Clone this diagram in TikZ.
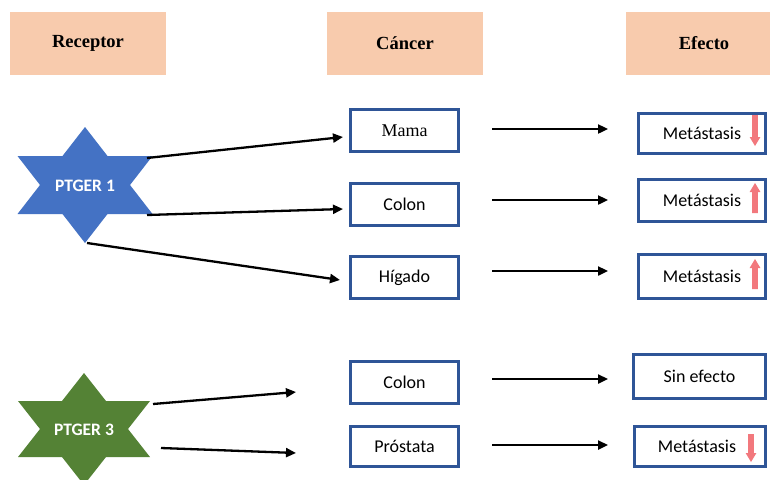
\documentclass[tikz,border=0pt]{standalone}
\usepackage{fontspec}
\setmainfont{Liberation Serif}
\newfontfamily\calfont{Carlito}
\usetikzlibrary{arrows.meta}
\definecolor{peach}{RGB}{248,203,173}
\definecolor{boxblue}{RGB}{47,85,151}
\definecolor{starblue}{RGB}{68,114,196}
\definecolor{stargreen}{RGB}{84,130,53}
\definecolor{redarr}{RGB}{242,120,125}
\tikzset{
  header/.style={fill=peach, draw=none, minimum width=156pt, minimum height=63pt, inner sep=0pt,
    font=\fontsize{18.5}{20}\selectfont\bfseries},
  cbox/.style={draw=boxblue, line width=3pt, fill=white, inner sep=0pt,
    font=\calfont\fontsize{18}{20}\selectfont},
  startext/.style={text=white, font=\calfont\bfseries\fontsize{17.5}{20}\selectfont, inner sep=0pt},
  conn/.style={line width=2.3pt, -{Triangle[length=10pt,width=9pt]}},
}
\newcommand{\hexstar}[5]{% cx cy a b color
  \fill[#5] (#1,#2-#4) -- (#1-#3,#2+#4/2) -- (#1+#3,#2+#4/2) -- cycle;
  \fill[#5] (#1,#2+#4) -- (#1-#3,#2-#4/2) -- (#1+#3,#2-#4/2) -- cycle;
}
\newcommand{\uparr}[3]{% x ytop ybottom
  \fill[redarr] (#1-2.8,#3) -- (#1-2.8,#2+9) -- (#1-5.4,#2+9) -- (#1,#2) -- (#1+5.4,#2+9) -- (#1+2.8,#2+9) -- (#1+2.8,#3) -- cycle;
}
\newcommand{\downarr}[3]{% x ytop ybottom
  \fill[redarr] (#1-2.8,#2) -- (#1-2.8,#3-9) -- (#1-5.4,#3-9) -- (#1,#3) -- (#1+5.4,#3-9) -- (#1+2.8,#3-9) -- (#1+2.8,#2) -- cycle;
}
\begin{document}
\begin{tikzpicture}[x=1pt,y=-1pt]
\useasboundingbox (0,0) rectangle (770,479);
\clip (0,0) rectangle (770,479);
\fill[white] (0,0) rectangle (770,479);

% headers
\node[header] (hrec) at (88,43.5) {Receptor};
\node[header] (hcan) at (405,43.5) {Cáncer};
\node[header] (hefe) at (704,43.5) {Efecto};

% stars
\hexstar{85}{185}{67.5}{58}{starblue}
\node[startext] (p1) at (85,186) {PTGER 1};
\hexstar{84}{429}{66}{56}{stargreen}
\node[startext] (p3) at (84,430) {PTGER 3};

% cancer boxes
\node[cbox, minimum width=108pt, minimum height=42pt, font=\fontsize{18}{20}\selectfont] (mama) at (404.5,130.5) {Mama};
\node[cbox, minimum width=108pt, minimum height=42pt] (colon1) at (404.5,204.5) {Colon};
\node[cbox, minimum width=108pt, minimum height=42pt] (higado) at (404.5,277.5) {Hígado};
\node[cbox, minimum width=108pt, minimum height=42pt] (colon2) at (404.5,382.5) {Colon};
\node[cbox, minimum width=108pt, minimum height=40pt] (prostata) at (404.5,446.5) {Próstata};

% effect boxes
\node[cbox, minimum width=127pt, minimum height=40pt] (e1) at (702,133.5) {Metástasis};
\node[cbox, minimum width=127pt, minimum height=42pt] (e2) at (702,200.5) {Metástasis};
\node[cbox, minimum width=127pt, minimum height=44pt] (e3) at (702,276.5) {Metástasis};
\node[cbox, minimum width=132pt, minimum height=44pt] (e4) at (699.5,376.5) {Sin efecto};
\node[cbox, minimum width=131pt, minimum height=40pt, text width=131pt, align=center] (e5) at (700,446.5) {\hspace*{-6pt}Metástasis};

% red arrows
\downarr{755}{115}{146}
\uparr{755}{183}{213}
\uparr{755}{259}{289}
\downarr{751}{434}{462}

% connector endpoints
\coordinate (p1a) at (147,158);
\coordinate (p1b) at (147,215);
\coordinate (p1c) at (87,243);
\coordinate (p3a) at (153,404);
\coordinate (p3b) at (161,448);
\coordinate (t1) at (343,137);
\coordinate (t2) at (343,209);
\coordinate (t3) at (340,280);
\coordinate (t4) at (296,392);
\coordinate (t5) at (296,453);

\draw[conn] (p1a) -- (t1);
\draw[conn] (p1b) -- (t2);
\draw[conn] (p1c) -- (t3);
\draw[conn] (p3a) -- (t4);
\draw[conn] (p3b) -- (t5);

% middle arrows
\coordinate (m1s) at (492,129); \coordinate (m1e) at (608,129);
\coordinate (m2s) at (492,200); \coordinate (m2e) at (608,200);
\coordinate (m3s) at (492,271); \coordinate (m3e) at (608,271);
\coordinate (m4s) at (492,379); \coordinate (m4e) at (608,379);
\coordinate (m5s) at (492,445); \coordinate (m5e) at (608,445);
\draw[conn] (m1s) -- (m1e);
\draw[conn] (m2s) -- (m2e);
\draw[conn] (m3s) -- (m3e);
\draw[conn] (m4s) -- (m4e);
\draw[conn] (m5s) -- (m5e);
\end{tikzpicture}
\end{document}
